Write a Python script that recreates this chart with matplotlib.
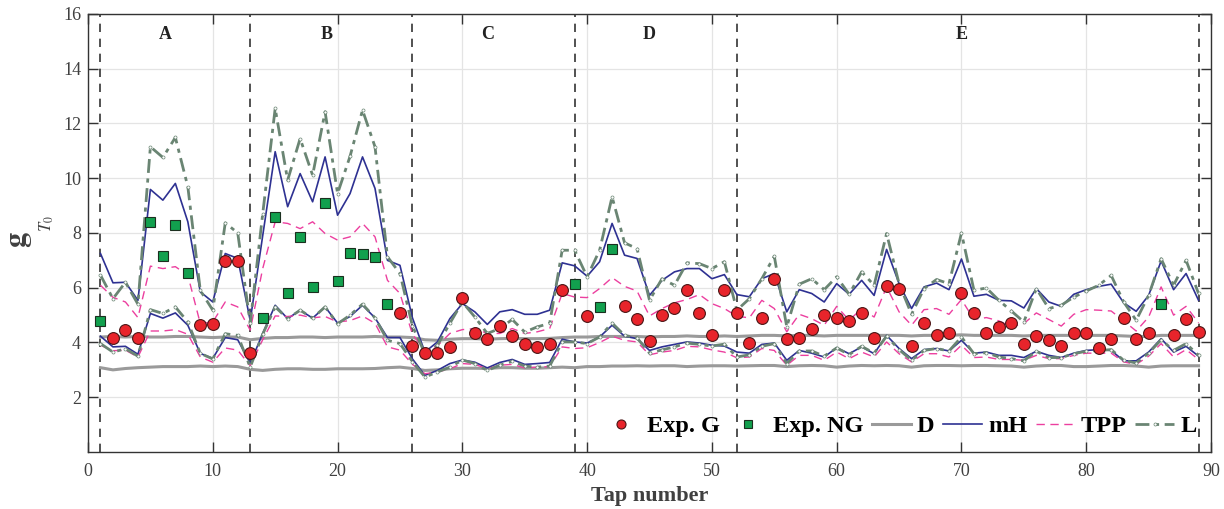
import matplotlib
matplotlib.use("Agg")
import matplotlib.pyplot as plt
import numpy as np

plt.rcParams['font.family'] = ['Liberation Serif', 'DejaVu Serif']
plt.rcParams['mathtext.fontset'] = 'stix'

taps = np.arange(1, 90)

mh_hi = [7.25, 6.18, 6.2, 5.54, 9.59, 9.2, 9.81, 8.41, 5.85, 5.48, 7.25, 7.07, 4.8,
         7.9, 10.97, 8.96, 10.17, 9.14, 10.78, 8.65, 9.44, 10.78, 9.63, 7.0, 6.82, 4.9,
         3.65, 4.02, 4.87, 5.42, 5.12, 4.66, 5.12, 5.2, 5.03, 5.03, 5.18, 6.91, 6.8,
         6.42, 6.95, 8.35, 7.19, 7.07, 5.72, 6.27, 6.58, 6.7, 6.7, 6.33, 6.48, 5.75,
         5.67, 6.33, 6.52, 5.12, 5.93, 5.79, 5.48, 6.15, 5.76, 6.27, 5.72, 7.4, 6.15,
         5.24, 6.03, 6.17, 5.93, 7.05, 5.69, 5.76, 5.54, 5.52, 5.26, 5.97, 5.48, 5.32,
         5.76, 5.93, 6.05, 6.13, 5.45, 5.14, 5.72, 6.98, 5.93, 6.52, 5.54]
mh_lo = [4.23, 3.84, 3.86, 3.57, 5.06, 4.89, 5.08, 4.63, 3.6, 3.42, 4.18, 4.1, 3.24,
         4.33, 5.36, 4.87, 5.18, 4.89, 5.3, 4.71, 4.95, 5.36, 4.9, 4.18, 4.18, 3.4,
         2.8, 2.98, 3.23, 3.36, 3.28, 3.07, 3.27, 3.38, 3.2, 3.23, 3.27, 4.12, 4.02,
         3.98, 4.2, 4.63, 4.23, 4.14, 3.71, 3.84, 3.93, 4.02, 3.98, 3.9, 3.87, 3.65,
         3.61, 3.93, 3.98, 3.35, 3.71, 3.61, 3.47, 3.81, 3.59, 3.84, 3.59, 4.26, 3.78,
         3.41, 3.74, 3.78, 3.69, 4.08, 3.61, 3.65, 3.53, 3.53, 3.45, 3.68, 3.53, 3.45,
         3.61, 3.71, 3.74, 3.71, 3.33, 3.33, 3.65, 4.14, 3.65, 3.86, 3.5]
l_hi = [6.46, 5.6, 6.2, 5.4, 11.15, 10.76, 11.49, 9.69, 5.9, 5.18, 8.37, 8.0, 4.7,
        8.7, 12.55, 9.93, 11.45, 10.11, 12.43, 9.44, 10.8, 12.49, 11.15, 7.13, 6.52, 4.6,
        3.6, 3.9, 4.7, 5.48, 4.93, 4.33, 4.51, 4.84, 4.38, 4.57, 4.7, 7.37, 7.37,
        6.4, 7.37, 9.32, 7.64, 7.43, 5.54, 6.33, 6.09, 6.91, 6.88, 6.7, 6.95, 5.18,
        5.6, 6.33, 7.15, 4.57, 6.13, 6.33, 5.93, 6.4, 5.76, 6.58, 6.09, 7.98, 6.15,
        5.03, 5.97, 6.3, 6.15, 8.0, 5.91, 5.99, 5.54, 5.15, 4.75, 5.97, 5.24, 5.36,
        5.66, 5.88, 6.09, 6.45, 5.48, 4.81, 5.72, 7.06, 6.09, 7.0, 5.79]
l_lo = [3.96, 3.65, 3.77, 3.5, 5.2, 5.06, 5.3, 4.75, 3.6, 3.4, 4.32, 4.26, 3.1,
        4.3, 5.3, 4.87, 5.18, 4.89, 5.3, 4.68, 5.0, 5.4, 4.9, 4.08, 3.96, 3.3,
        2.74, 2.92, 3.1, 3.36, 3.23, 2.98, 3.17, 3.31, 3.14, 3.1, 3.14, 4.02, 4.02,
        3.96, 4.2, 4.71, 4.26, 4.17, 3.61, 3.73, 3.84, 3.98, 3.93, 3.87, 3.94, 3.47,
        3.55, 3.86, 3.96, 3.23, 3.69, 3.69, 3.5, 3.8, 3.56, 3.86, 3.61, 4.23, 3.74,
        3.35, 3.71, 3.78, 3.69, 4.2, 3.59, 3.63, 3.47, 3.41, 3.33, 3.68, 3.45, 3.45,
        3.59, 3.68, 3.71, 3.74, 3.35, 3.25, 3.61, 4.1, 3.71, 3.96, 3.53]
tpp_hi = [6.09, 5.65, 5.48, 4.91, 6.79, 6.7, 6.77, 6.46, 4.69, 4.75, 5.48, 5.3, 4.45,
          6.7, 8.41, 8.35, 8.16, 8.41, 7.98, 7.74, 7.86, 8.35, 7.86, 6.27, 5.79, 4.3,
          3.7, 3.88, 4.33, 4.47, 4.51, 4.33, 4.33, 4.51, 4.33, 4.39, 4.51, 5.79, 5.66,
          5.64, 5.97, 6.37, 6.05, 5.88, 4.97, 5.24, 5.45, 5.57, 5.75, 5.42, 5.24, 4.96,
          4.9, 5.54, 5.24, 4.39, 5.03, 4.87, 4.63, 5.32, 4.81, 5.24, 4.93, 6.03, 5.12,
          4.63, 5.2, 5.24, 5.03, 5.57, 4.84, 4.91, 4.79, 4.57, 4.69, 5.08, 4.84, 4.6,
          5.03, 5.2, 5.18, 5.15, 4.79, 4.42, 4.93, 6.03, 5.0, 5.32, 4.72]
tpp_lo = [3.9, 3.7, 3.72, 3.47, 4.42, 4.42, 4.47, 4.3, 3.47, 3.28, 3.8, 3.72, 3.15,
          4.1, 4.97, 4.95, 5.0, 4.9, 4.95, 4.75, 4.8, 4.97, 4.7, 3.84, 3.72, 3.2,
          2.86, 2.92, 3.04, 3.23, 3.2, 3.04, 3.17, 3.2, 3.07, 3.1, 3.12, 3.84, 3.78,
          3.81, 4.0, 4.23, 4.08, 4.02, 3.55, 3.65, 3.71, 3.86, 3.84, 3.73, 3.65, 3.44,
          3.47, 3.78, 3.71, 3.17, 3.53, 3.53, 3.35, 3.65, 3.41, 3.65, 3.47, 4.02, 3.59,
          3.29, 3.59, 3.59, 3.47, 3.9, 3.45, 3.47, 3.38, 3.38, 3.35, 3.53, 3.41, 3.41,
          3.53, 3.61, 3.61, 3.61, 3.29, 3.2, 3.5, 3.96, 3.47, 3.74, 3.38]
d_hi = [4.2, 4.22, 4.2, 4.22, 4.2, 4.2, 4.22, 4.22, 4.2, 4.18, 4.2, 4.2, 4.1,
        4.15, 4.18, 4.18, 4.2, 4.2, 4.18, 4.2, 4.2, 4.2, 4.22, 4.2, 4.2, 4.18,
        4.1, 4.08, 4.12, 4.14, 4.14, 4.12, 4.14, 4.15, 4.14, 4.14, 4.15, 4.18, 4.2,
        4.2, 4.22, 4.22, 4.22, 4.22, 4.2, 4.22, 4.22, 4.24, 4.22, 4.22, 4.24, 4.22,
        4.24, 4.26, 4.26, 4.24, 4.26, 4.26, 4.24, 4.26, 4.26, 4.26, 4.26, 4.26, 4.26,
        4.24, 4.26, 4.26, 4.26, 4.28, 4.26, 4.26, 4.26, 4.26, 4.24, 4.26, 4.26, 4.26,
        4.26, 4.26, 4.26, 4.26, 4.24, 4.22, 4.22, 4.26, 4.26, 4.26, 4.26]
d_lo = [3.08, 3.0, 3.05, 3.08, 3.1, 3.12, 3.12, 3.12, 3.14, 3.12, 3.14, 3.12, 3.02,
        2.98, 3.02, 3.04, 3.04, 3.02, 3.02, 3.04, 3.04, 3.04, 3.05, 3.08, 3.1, 3.05,
        2.98, 3.0, 3.04, 3.06, 3.06, 3.05, 3.08, 3.08, 3.06, 3.06, 3.08, 3.1, 3.08,
        3.12, 3.12, 3.14, 3.14, 3.15, 3.14, 3.15, 3.15, 3.12, 3.14, 3.15, 3.15, 3.14,
        3.15, 3.16, 3.16, 3.12, 3.15, 3.16, 3.15, 3.1, 3.14, 3.16, 3.15, 3.16, 3.15,
        3.1, 3.15, 3.16, 3.16, 3.15, 3.16, 3.16, 3.15, 3.14, 3.1, 3.14, 3.16, 3.16,
        3.12, 3.12, 3.14, 3.16, 3.16, 3.14, 3.1, 3.14, 3.15, 3.15, 3.15]

exp_g_taps = [2, 3, 4, 9, 10, 11, 12, 13, 25, 26, 27, 28, 29, 30, 31, 32, 33, 34, 35,
              36, 37, 38, 40, 43, 44, 45, 46, 47, 48, 49, 50, 51, 52, 53, 54, 55, 56,
              57, 58, 59, 60, 61, 62, 63, 64, 65, 66, 67, 68, 69, 70, 71, 72, 73, 74,
              75, 76, 77, 78, 79, 80, 81, 82, 83, 84, 85, 87, 88, 89]
exp_g_vals = [4.18, 4.47, 4.17, 4.65, 4.69, 6.97, 6.97, 3.6, 5.08, 3.86, 3.61, 3.61, 3.84,
              5.64, 4.33, 4.14, 4.6, 4.23, 3.96, 3.84, 3.96, 5.91, 4.98, 5.32, 4.84,
              4.04, 5.02, 5.27, 5.91, 5.08, 4.28, 5.91, 5.08, 3.98, 4.91, 6.31, 4.14,
              4.17, 4.48, 4.99, 4.91, 4.79, 5.08, 4.17, 6.05, 5.97, 3.86, 4.72, 4.27,
              4.33, 5.81, 5.08, 4.33, 4.57, 4.72, 3.96, 4.24, 4.08, 3.87, 4.36, 4.33,
              3.8, 4.12, 4.91, 4.12, 4.33, 4.27, 4.84, 4.39]
exp_ng_taps = [1, 5, 6, 7, 8, 14, 15, 16, 17, 18, 19, 20, 21, 22, 23, 24, 39, 41, 42, 86]
exp_ng_vals = [4.79, 8.41, 7.15, 8.28, 6.54, 4.88, 8.59, 5.79, 7.84, 6.03, 9.1, 6.25,
               7.27, 7.25, 7.13, 5.42, 6.12, 5.3, 7.4, 5.42]

section_bounds = [1, 13, 26, 39, 52, 89]
section_names = ['A', 'B', 'C', 'D', 'E']
section_label_x = [6.2, 19.1, 32.0, 45.0, 70.0]

c_d = '#9a9a9a'
c_mh = '#2e3192'
c_tpp = '#ec3f9f'
c_l = '#6a8573'
c_txt = '#404040'


def draw_pair(ax, lo, hi, **kw):
    line, = ax.plot(taps, hi, **kw)
    ax.plot(taps, lo, **kw)
    return line


def main():
    fig = plt.figure(figsize=(12.24, 5.09), dpi=100)
    ax = fig.add_axes([0.0719, 0.112, 0.9175, 0.8605])

    for b in section_bounds:
        ax.axvline(b, color='#333333', ls=(0, (5, 4)), lw=1.2, zorder=1)
    for name, x in zip(section_names, section_label_x):
        ax.text(x, 15.25, name, ha='center', va='center', fontsize=13,
                fontweight='bold', color='#222222')

    h_d = draw_pair(ax, d_lo, d_hi, color=c_d, lw=2.2, zorder=2)
    h_mh = draw_pair(ax, mh_lo, mh_hi, color=c_mh, lw=1.2, zorder=3)
    h_tpp = draw_pair(ax, tpp_lo, tpp_hi, color=c_tpp, lw=1.0, ls=(0, (6, 4)), zorder=3)
    h_l = draw_pair(ax, l_lo, l_hi, color=c_l, lw=2.0, ls=(0, (5, 2, 1.5, 2)),
                    marker='o', ms=2.2, mfc='white', mec=c_l, mew=0.5, zorder=4)

    ax.plot(exp_g_taps, exp_g_vals, 'o', ms=8.5, mfc='#e8242b',
            mec='#4a1515', mew=0.8, zorder=6)
    ax.plot(exp_ng_taps, exp_ng_vals, 's', ms=7, mfc='#12a04e',
            mec='#1b2f1f', mew=0.8, zorder=6)

    ax.set_xlim(0, 90)
    ax.set_ylim(0, 16)
    ax.set_xticks(np.arange(0, 91, 10))
    ax.set_yticks(np.arange(2, 17, 2))
    ax.grid(True, color='#e4e4e4', lw=0.9)
    ax.set_axisbelow(True)
    ax.tick_params(direction='in', length=7, width=1, top=True, right=True,
                   labelsize=13, labelcolor=c_txt, color='#333333')
    ax.tick_params(axis='x', pad=8)
    ax.tick_params(axis='y', pad=5)
    for s in ax.spines.values():
        s.set_color('#333333')
        s.set_linewidth(1.0)

    ax.set_xlabel('Tap number', fontsize=16, fontweight='bold', color=c_txt, labelpad=4)
    # y label: bold g with a detached T0 subscript, as in the source figure
    fig.text(20 / 1224, 1 - 240 / 509, r'$\mathbf{g}$', fontsize=22, rotation=90,
             ha='center', va='center', color=c_txt)
    fig.text(47 / 1224, 1 - 224 / 509, r'$T_0$', fontsize=12, rotation=90,
             ha='center', va='center', color=c_txt)

    leg_g, = ax.plot([], [], 'o', ms=6.5, mfc='#e8242b', mec='#4a1515', mew=0.8)
    leg_ng, = ax.plot([], [], 's', ms=5.5, mfc='#12a04e', mec='#1b2f1f', mew=0.8)
    ax.legend([leg_g, leg_ng, h_d, h_mh, h_tpp, h_l],
              ['Exp. G', 'Exp. NG', 'D', 'mH', 'TPP', 'L'],
              loc='lower right', ncol=6, frameon=False,
              prop={'weight': 'bold', 'size': 17.5},
              handlelength=1.6, handletextpad=0.25, columnspacing=0.35,
              borderaxespad=0.2, bbox_to_anchor=(1.0, 0.0))

    fig.savefig('out.png', dpi=100)
    plt.close(fig)


if __name__ == '__main__':
    main()
